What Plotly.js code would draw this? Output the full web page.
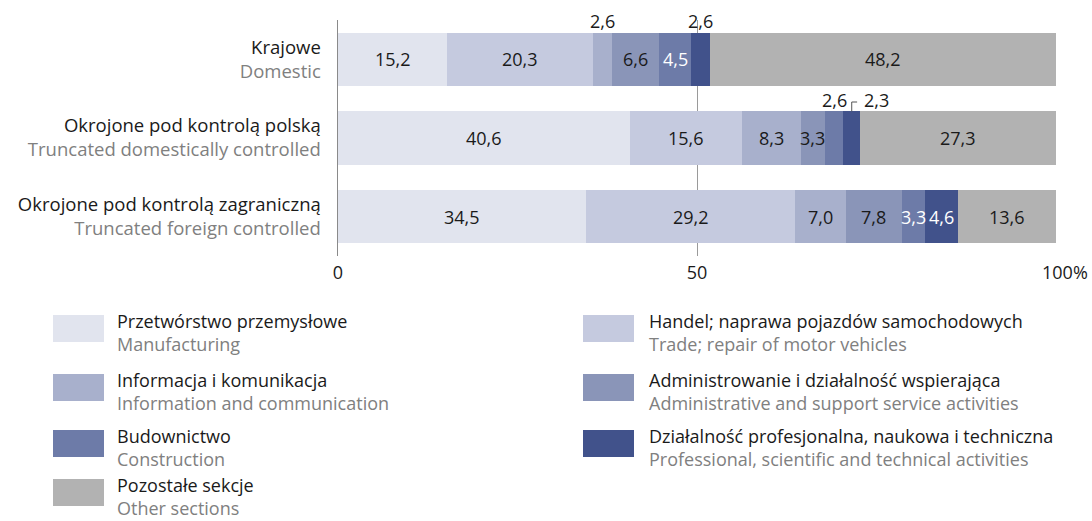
<!DOCTYPE html>
<html>
<head>
<meta charset="utf-8">
<script src="https://cdn.plot.ly/plotly-3.0.1.min.js"></script>
<style>html,body{margin:0;padding:0;background:#fff;}#chart{width:1092px;height:521px;}</style>
</head>
<body>
<div id="chart"></div>
<script>
// ---- data ----
const categoriesPl = ['Krajowe', 'Okrojone pod kontrolą polską', 'Okrojone pod kontrolą zagraniczną'];
const categoriesEn = ['Domestic', 'Truncated domestically controlled', 'Truncated foreign controlled'];

const seriesPl = ['Przetwórstwo przemysłowe', 'Handel; naprawa pojazdów samochodowych', 'Informacja i komunikacja',
  'Administrowanie i działalność wspierająca', 'Budownictwo', 'Działalność profesjonalna, naukowa i techniczna', 'Pozostałe sekcje'];
const seriesEn = ['Manufacturing', 'Trade; repair of motor vehicles', 'Information and communication',
  'Administrative and support service activities', 'Construction', 'Professional, scientific and technical activities', 'Other sections'];

const manufacturing = [15.2, 40.6, 34.5];
const trade = [20.3, 15.6, 29.2];
const information = [2.6, 8.3, 7.0];
const administrative = [6.6, 3.3, 7.8];
const construction = [4.5, 2.6, 3.3];
const professional = [2.6, 2.3, 4.6];
const other = [48.2, 27.3, 13.6];

const xTickVals = [0, 50, 100];
const xTickText = ['0', '50', '100%'];

// ---- styles ----
const seriesValues = [manufacturing, trade, information, administrative, construction, professional, other];
const colors = ['#e1e4ee', '#c5cadf', '#a8b0cc', '#8a95b8', '#6d7ba8', '#41528b', '#b2b2b2'];
const FONT = 'Open Sans, sans-serif';
const BLACK = '#1a1a1a', GREY = '#808080';
const FS = 18;

// label placement: 'in' inside bar, 'up' above bar; per series per category
const placement = [
  ['in','in','in'], ['in','in','in'], ['up','in','in'], ['in','in','in'],
  ['in','up','in'], ['up','up','in'], ['in','in','in']
];
const whiteText = [false, false, false, false, true, true, false];

const fmt = v => v.toFixed(1).replace('.', ',');

const traces = seriesValues.map((vals, i) => ({
  type: 'bar', orientation: 'h',
  name: seriesPl[i],
  x: vals, y: categoriesPl,
  marker: {color: colors[i], line: {width: 0}},
  hovertemplate: '%{y}: %{x}<extra>' + seriesPl[i] + '</extra>',
  showlegend: false
}));

const W = 1092, H = 521;
const L = 338, R = 36, T = 20, B = 265;
const PW = W - L - R, PH = H - T - B;
const px = x => (x - L) / PW;
const py = y => (H - B - y) / PH;

const annotations = [];
const shapes = [];

// bar labels
categoriesPl.forEach((cat, c) => {
  let cum = 0;
  seriesValues.forEach((vals, i) => {
    const v = vals[c];
    const mid = cum + v / 2;
    cum += v;
    const p = placement[i][c];
    if (p === 'in') {
      annotations.push({x: mid, y: cat, xref: 'x', yref: 'y', text: fmt(v), showarrow: false,
        font: {family: FONT, size: FS, color: (whiteText[i] ? '#ffffff' : BLACK)}});
    } else {
      const shiftRight = (i === 5 && c === 1);
      annotations.push({x: mid, y: cat, xref: 'x', yref: 'y', text: fmt(v), showarrow: false,
        xshift: shiftRight ? 25 : 0, yshift: 38,
        font: {family: FONT, size: FS, color: BLACK}});
      if (shiftRight) {
        const top = c - 0.3375;
        shapes.push({type: 'path', xref: 'x', yref: 'y',
          path: `M ${mid} ${top} L ${mid} ${top - 0.12} L ${mid + 0.75} ${top - 0.12}`,
          line: {color: '#555', width: 1}});
      }
    }
  });
});

// x label "100%" with the number centred on its tick
annotations.push({x: xTickVals[2], y: 0, xref: 'x', yref: 'paper', text: xTickText[2],
  xanchor: 'left', yanchor: 'middle', xshift: -16, yshift: -16, showarrow: false,
  font: {family: FONT, size: FS, color: BLACK}});

// custom legend
const rowTops = [315, 374, 430, 479];
const colX = [53, 583];
const textX = [115, 647];
seriesPl.forEach((name, i) => {
  const col = i % 2, row = Math.floor(i / 2);
  const top = rowTops[row];
  shapes.push({type: 'rect', xref: 'paper', yref: 'paper',
    x0: px(colX[col]), x1: px(colX[col] + 51), y0: py(top), y1: py(top + 27),
    fillcolor: colors[i], line: {width: 0}});
  annotations.push({xref: 'paper', yref: 'paper', x: px(textX[col]), y: py(top + 17.5),
    xanchor: 'left', yanchor: 'middle', align: 'left', showarrow: false,
    text: name + '<br><span style="color:' + GREY + '">' + seriesEn[i] + '</span>',
    font: {family: FONT, size: FS, color: BLACK}});
});

const yTickText = categoriesPl.map((c, k) => c + '<br><span style="color:' + GREY + '">' + categoriesEn[k] + '</span>');

const layout = {
  width: W, height: H,
  margin: {l: L, r: R, t: T, b: B, pad: 0},
  paper_bgcolor: '#ffffff', plot_bgcolor: '#ffffff',
  barmode: 'stack', bargap: 0.325,
  showlegend: false,
  font: {family: FONT, size: FS, color: BLACK},
  xaxis: {range: [0, 100], tickvals: xTickVals, ticktext: [xTickText[0], xTickText[1], ''], showgrid: true,
    gridcolor: '#9a9a9a', gridwidth: 1, zeroline: false, showline: false, ticks: '',
    ticklabelstandoff: 4, tickfont: {family: FONT, size: FS, color: BLACK}, fixedrange: true},
  yaxis: {type: 'category', autorange: 'reversed', tickvals: categoriesPl, ticktext: yTickText,
    showline: true, linecolor: '#8a8a8a', linewidth: 1.5, showgrid: false, zeroline: false, ticks: '',
    ticklabelstandoff: 12, tickfont: {family: FONT, size: 18.5, color: BLACK}, fixedrange: true},
  annotations: annotations,
  shapes: shapes
};

Plotly.newPlot('chart', traces, layout, {displayModeBar: false, staticPlot: true});
</script>
</body>
</html>
